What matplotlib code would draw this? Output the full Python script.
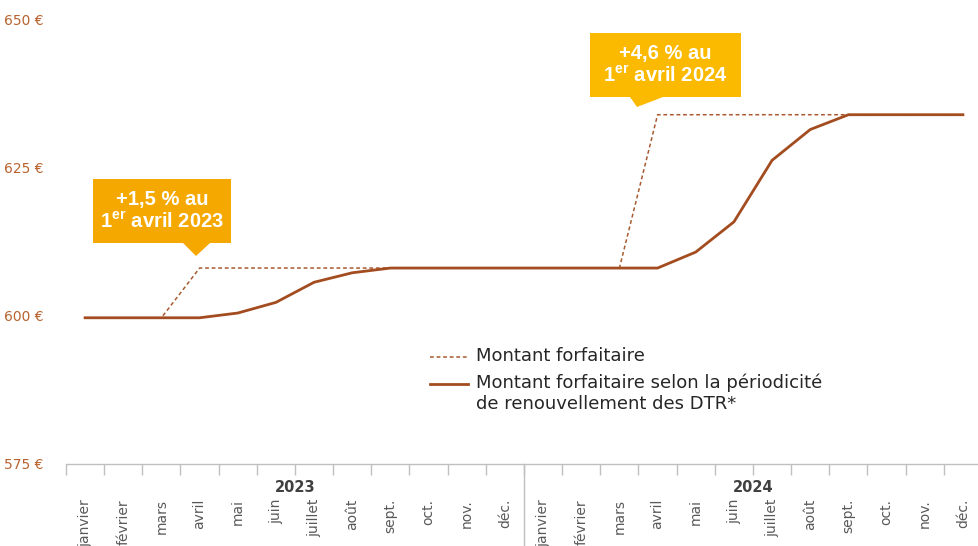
import matplotlib
matplotlib.use("Agg")
import matplotlib.pyplot as plt
from matplotlib.lines import Line2D
from matplotlib.patches import Polygon

plt.rcParams['font.family'] = ['DejaVu Sans']
plt.rcParams['mathtext.fontset'] = 'custom'
plt.rcParams['mathtext.bf'] = 'Liberation Sans:bold'

# data
years = ["2023", "2024"]
months = ["janvier", "février", "mars", "avril", "mai", "juin", "juillet",
          "août", "sept.", "oct.", "nov.", "déc."]
montant_forfaitaire = [599.7, 599.7, 599.7, 608.1, 608.1, 608.1, 608.1, 608.1,
                       608.1, 608.1, 608.1, 608.1,
                       608.1, 608.1, 608.1, 634.0, 634.0, 634.0, 634.0, 634.0,
                       634.0, 634.0, 634.0, 634.0]
montant_periodicite = [599.7, 599.7, 599.7, 599.7, 600.5, 602.3, 605.7, 607.3,
                       608.1, 608.1, 608.1, 608.1,
                       608.1, 608.1, 608.1, 608.1, 610.8, 615.9, 626.3, 631.5,
                       634.0, 634.0, 634.0, 634.0]
y_ticks = [575, 600, 625, 650]
labels = ["Montant forfaitaire",
          "Montant forfaitaire selon la périodicité\nde renouvellement des DTR*"]
annotations = ["+1,5 % au\n1$^{\\mathbf{er}}$ avril 2023",
               "+4,6 % au\n1$^{\\mathbf{er}}$ avril 2024"]

BROWN = "#A34C1F"
DASH_BROWN = "#A85A30"
TICK_BROWN = "#B8632F"
DASH = (0, (2.5, 1.8))
W, H = 979, 546

fig = plt.figure(figsize=(W / 100, H / 100), dpi=100)
ax = fig.add_axes([66 / W, 1 - 464 / H, 916 / W, 444 / H])

x = list(range(len(montant_forfaitaire)))
ax.plot(x, montant_forfaitaire, color=DASH_BROWN, lw=1.1, ls=DASH)
ax.plot(x, montant_periodicite, color=BROWN, lw=2.0)

ax.set_xlim(-0.5, 23.5)
ax.set_ylim(575, 650)
ax.set_yticks(y_ticks)
ax.set_yticklabels([f"{v} €" for v in y_ticks], color=TICK_BROWN, fontsize=10)
ax.tick_params(axis="y", length=0, pad=16)
for s in ["left", "right", "top"]:
    ax.spines[s].set_visible(False)
ax.spines["bottom"].set_color("#BFBFBF")
ax.spines["bottom"].set_linewidth(1.0)
ax.set_xticks([i - 0.5 for i in range(24)])
ax.set_xticklabels([])
ax.tick_params(axis="x", length=8, color="#BFBFBF", width=1.0)

# month labels, year labels, year divider
tr = ax.get_xaxis_transform()
for i in x:
    ax.text(i, -35 / 444, months[i % 12], transform=tr, rotation=90,
            ha="center", va="top", fontsize=10, color="#595959")
for k, yr in enumerate(years):
    ax.text(12 * k + 5.5, -23 / 444, yr, transform=tr, ha="center", va="center",
            fontsize=10.5, fontweight="bold", color="#404040")
ax.plot([11.5, 11.5], [0, -90 / 444], transform=tr, color="#BFBFBF", lw=1.0,
        clip_on=False)

# legend, drawn by hand so the solid handle sits on the first text line
for (ly, style, lw, col), lab in zip([(357, DASH, 1.1, DASH_BROWN),
                                      (384, "-", 2.0, BROWN)], labels):
    fig.add_artist(Line2D([430 / W, 468 / W], [1 - ly / H, 1 - ly / H],
                          transform=fig.transFigure, color=col, lw=lw, ls=style))
    fig.text(476 / W, 1 - (ly - 10) / H, lab, ha="left", va="top", fontsize=13,
             color="#262626", linespacing=1.2)


def callout(box, tri, color, text):
    x0, y0, x1, y1 = box
    pts = [(x0, y0), (x1, y0), (x1, y1), (tri[2][0], y1), tri[1], (tri[0][0], y1),
           (x0, y1)]
    pts = [(px / W, 1 - py / H) for px, py in pts]
    fig.add_artist(Polygon(pts, closed=True, transform=fig.transFigure,
                           facecolor=color, edgecolor="none"))
    fig.text((x0 + x1) / 2 / W, 1 - (y0 + y1) / 2 / H, text, ha="center",
             va="center", color="white", fontsize=14.5, fontweight="bold",
             family="Liberation Sans", linespacing=1.15)


callout((93, 179, 231, 243), [(183, 243), (196, 256), (210, 243)], "#F5A800",
        annotations[0])
callout((590, 33, 741, 97), [(630, 97), (637, 107), (663, 97)], "#FBBA00",
        annotations[1])

fig.savefig("out.png", dpi=100)
